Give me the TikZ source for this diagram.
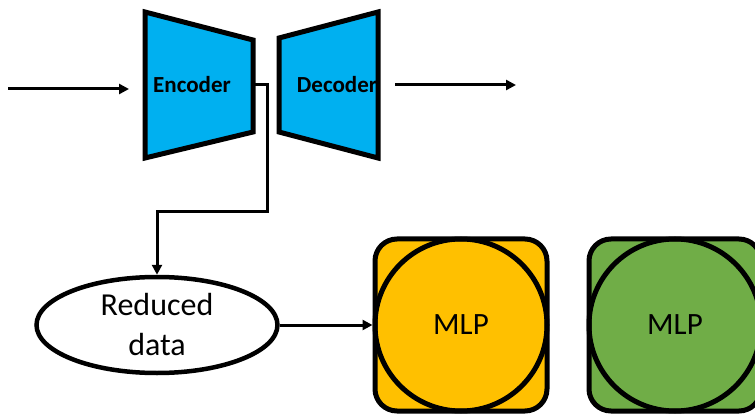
\documentclass[tikz,border=0pt]{standalone}
\usepackage{fontspec}
\setmainfont{Carlito}
\usetikzlibrary{arrows.meta,shapes.geometric}
\definecolor{encblue}{HTML}{00B0F0}
\definecolor{mlpyellow}{HTML}{FFC000}
\definecolor{mlpgreen}{HTML}{70AD47}
\begin{document}
\begin{tikzpicture}[x=1pt,y=-1pt,
  trap/.style={draw=black, line width=5pt, line join=miter, fill=encblue},
  conn/.style={line width=3pt, -{Triangle[length=10pt,width=10pt]}},
  lbl/.style={font=\bfseries\fontsize{23}{27}\selectfont},
  mlpbox/.style={draw=black, line width=5pt, rounded corners=22pt, minimum size=172pt, inner sep=0pt},
  mlpcirc/.style={draw=black, line width=5pt, circle, minimum size=172pt, inner sep=0pt, font=\fontsize{31}{36}\selectfont}]
\useasboundingbox (0,0) rectangle (755,414);
\clip (0,0) rectangle (755,414);
\fill[white] (0,0) rectangle (755,414);
% encoder / decoder
\draw[trap] (145,12) -- (253,40) -- (253,132) -- (145,158) -- cycle;
\draw[trap] (279,38) -- (378,12) -- (378,158) -- (279,132) -- cycle;
\node[lbl] (enc) at (192,85) {Encoder};
\node[lbl] (dec) at (337,85) {Decoder};
\coordinate (encR) at (255,85);
\coordinate (inS) at (8,89);
\coordinate (inE) at (129,89);
\coordinate (outS) at (395,85);
\coordinate (outE) at (516,85);
\draw[conn] (inS) -- (inE);
\draw[conn] (outS) -- (outE);
% reduced data
\node[draw=black, line width=4.5pt, ellipse, minimum width=241pt, minimum height=96pt, inner sep=0pt, align=center, font=\fontsize{32}{40}\selectfont] (red) at (157,325) {Reduced\\data};
\draw[conn] (encR) -- (267,85) -- (267,212) -| (red.north);
% MLPs
\node[mlpbox, fill=mlpyellow] (box1) at (461,325) {};
\node[mlpcirc] (c1) at (461,325) {MLP};
\node[mlpbox, fill=mlpgreen] (box2) at (675,325) {};
\node[mlpcirc] (c2) at (675,325) {MLP};
\draw[conn] (red.east) -- (box1.west);
\end{tikzpicture}
\end{document}
